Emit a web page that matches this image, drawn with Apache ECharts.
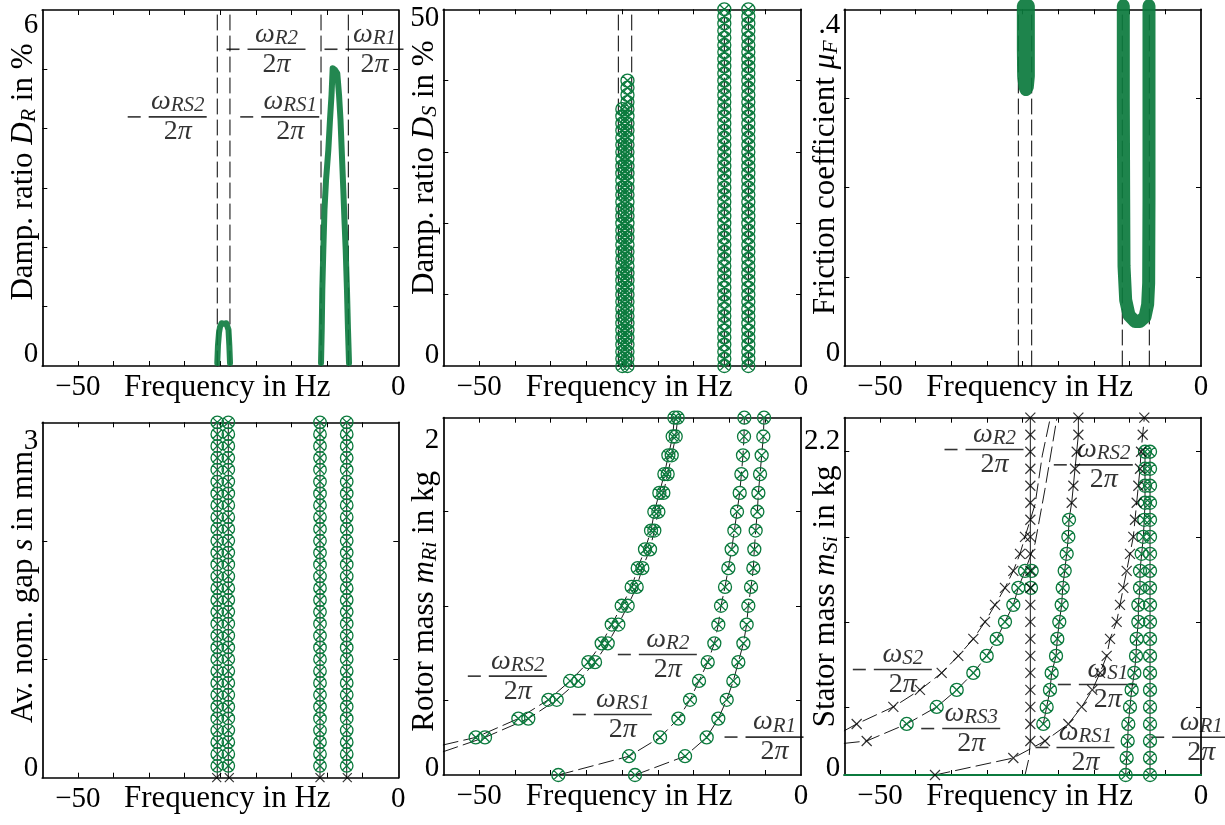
<!DOCTYPE html>
<html><head><meta charset="utf-8">
<script src="https://cdn.jsdelivr.net/npm/echarts@6/dist/echarts.min.js"></script>
<style>html,body{margin:0;padding:0;background:#fff}#c{width:1225px;height:825px}</style>
</head><body><div id="c"></div>
<script>
// ================= DATA =================
// shared x axis (Hz)
const X_MIN = -55.556, X_MAX = 0;
const X_TICKS = [-50, -44.444, -38.889, -33.333, -27.778, -22.222, -16.667, -11.111, -5.556];
const X_LABEL_VALUES = [-50, 0];
const X_LABEL_TEXTS = ['\u221250', '0'];

// parameter sweeps
const DS_LEVELS = [0,1,2,3,4,5,6,7,8,9,10,11,12,13,14,15,16,17,18,19,20,21,22,23,24,25,26,27,28,29,30,31,32,33,34,35,36,37,38,39,40,41,42,43,44,45,46,47,48,49,50];
const S_LEVELS = [0.1,0.2,0.3,0.4,0.5,0.6,0.7,0.8,0.9,1.0,1.1,1.2,1.3,1.4,1.5,1.6,1.7,1.8,1.9,2.0,2.1,2.2,2.3,2.4,2.5,2.6,2.7,2.8,2.9,3.0];
const M_LEVELS = [0.1,0.2,0.3,0.4,0.5,0.6,0.7,0.8,0.9,1.0,1.1,1.2,1.3,1.4,1.5,1.6,1.7,1.8,1.9,2.0];
const M_LEVELS_HI = [0.3,0.4,0.5,0.6,0.7,0.8,0.9,1.0,1.1,1.2,1.3,1.4,1.5,1.6,1.7,1.8,1.9,2.0,2.1,2.2];

// Panel 1 : damping ratio D_R
const P1_Y_TICKS = [1,2,3,4,5];
const P1_Y_LABEL_VALUES = [0, 6];
const P1_Y_LABEL_TEXTS = ['0', '6'];
const P1_DASH_X = [-28.25, -26.27, -12.06, -7.80];
const P1_SMALL_X = [-28.25, -28.14, -27.98, -27.82, -27.59, -27.40, -27.20, -27.04, -26.84, -26.65, -26.50, -26.37, -26.26];
const P1_SMALL_Y = [0.05, 0.35, 0.56, 0.66, 0.72, 0.73, 0.71, 0.69, 0.72, 0.72, 0.61, 0.35, 0.05];
const P1_BIG_X = [-12.06, -11.95, -11.86, -11.70, -11.52, -11.28, -10.92, -10.66, -10.42, -10.24, -9.88, -9.52, -9.25, -9.02, -8.83, -8.58, -8.40, -8.21, -8.01, -7.85, -7.69];
const P1_BIG_Y = [0.05, 0.61, 1.28, 1.96, 2.63, 3.13, 3.64, 4.15, 4.57, 5.02, 4.99, 4.93, 4.57, 4.15, 3.64, 2.97, 2.46, 1.96, 1.28, 0.61, 0.05];
const P1_LABEL_X = [-42.15, -26.73, -24.59, -11.44];
const P1_LABEL_Y = [4.19, 5.33, 4.19, 5.33];
const P1_LABEL_SUB = ['RS2', 'R2', 'RS1', 'R1'];

// Panel 2 : damping ratio D_S
const P2_Y_TICKS = [10,20,30,40];
const P2_Y_LABEL_VALUES = [0, 50];
const P2_Y_LABEL_TEXTS = ['0', '50'];
const P2_DASH_X = [-28.37, -26.29, -11.91, -8.18];
const P2_COL_X = [-27.75, -26.95, -11.91, -8.18];
const P2_COL_TOP = [36, 40, 50, 50];

// Panel 3 : friction coefficient
const P3_Y_TICKS = [0.1,0.2,0.3];
const P3_Y_LABEL_VALUES = [0, 0.4];
const P3_Y_LABEL_TEXTS = ['0', '.4'];
const P3_DASH_X = [-28.45, -26.37, -12.26, -8.05];
const P3_U1_X = [-27.67, -27.67, -27.62, -27.41, -27.26, -27.05, -26.89, -26.89, -26.89];
const P3_U1_Y = [0.404, 0.355, 0.325, 0.313, 0.310, 0.313, 0.325, 0.355, 0.404];
const P3_U2_X = [-12.10, -12.10, -12.04, -11.99, -11.73, -11.21, -10.28, -9.50, -8.72, -8.31, -8.15, -8.10, -8.10, -8.10];
const P3_U2_Y = [0.404, 0.299, 0.187, 0.112, 0.074, 0.057, 0.050, 0.050, 0.055, 0.069, 0.093, 0.187, 0.299, 0.404];

// Panel 4 : gap s
const P4_Y_TICKS = [1,2];
const P4_Y_LABEL_VALUES = [0, 3];
const P4_Y_LABEL_TEXTS = ['0', '3'];
const P4_COL_X = [-28.25, -26.53, -12.22, -8.05];
const P4_XMARK_X = [-28.34, -26.37, -12.22, -7.96];

// Panel 5 : rotor mass
const P5_Y_TICKS = [0.5,1.0,1.5];
const P5_Y_LABEL_VALUES = [0.1, 2.0];
const P5_Y_LABEL_TEXTS = ['0', '2'];
const P5_RS1_X = [-37.69, -26.71, -21.90, -19.05, -17.24, -15.84, -14.49, -13.46, -12.84, -12.42, -11.80, -11.28, -10.77, -10.35, -9.94, -9.52, -9.26, -9.01, -8.85, -8.80];
const P5_R1_X = [-25.78, -18.01, -14.65, -12.84, -11.54, -10.51, -9.73, -8.95, -8.44, -8.18, -7.76, -7.40, -7.25, -7.04, -6.78, -6.62, -6.36, -6.11, -5.85, -5.74];
const P5_RS2_X = [-50.52, -43.90, -39.24, -35.87, -33.03, -30.96, -29.40, -27.85, -26.30, -25.36, -24.23, -23.29, -22.78, -22.00, -21.22, -20.60, -19.93, -19.67];
const P5_R2_X = [-49.08, -42.35, -37.94, -34.58, -31.99, -30.02, -28.37, -26.92, -25.52, -24.64, -23.45, -22.78, -22.15, -21.38, -20.71, -20.08, -19.46, -19.15];
const P5_RS2_EDGE_M = 0.26;
const P5_R2_EDGE_M = 0.224;
const P5_LABEL_X = [-51.67, -28.37, -35.36, -11.80];
const P5_LABEL_Y = [0.623, 0.738, 0.419, 0.299];
const P5_LABEL_SUB = ['RS2', 'R2', 'RS1', 'R1'];

// Panel 6 : stator mass
const P6_Y_TICKS = [0.5,1.0,1.5,2.0];
const P6_Y_LABEL_VALUES = [0.1, 2.2];
const P6_Y_LABEL_TEXTS = ['0', '2.2'];
const P6_G1_M = [0.4,0.5,0.6,0.7,0.8,0.9,1.0,1.1,1.2,1.3];
const P6_G1_X = [-45.84, -41.17, -38.05, -35.46, -33.38, -31.82, -30.53, -29.23, -28.45, -27.41];
const P6_G5_M = [1.2, 1.3];
const P6_G5_X = [-26.48, -26.37];
const P6_G2_M = [0.4,0.5,0.6,0.7,0.8,0.9,1.0,1.1,1.2,1.3,1.4,1.5,1.6];
const P6_G2_X = [-24.56, -24.04, -23.52, -23.26, -22.58, -22.38, -22.07, -21.70, -21.54, -21.23, -20.92, -20.66, -20.56];
const P6_G3_X = [-11.73, -11.58, -11.42, -11.32, -11.06, -10.80, -10.38, -10.12, -10.02, -9.76, -9.76, -9.50, -9.50, -9.24, -8.98, -8.83, -8.72, -8.72, -8.72, -8.72];
const P6_G4_X = -7.94;
const P6_B1_X = -26.58;
const P6_B2_M = [0.4,0.5,0.6,0.7,0.8,0.9,1.0,1.1,1.2,1.3,1.4,1.5];
const P6_B2_X = [-53.63, -47.92, -43.77, -40.39, -37.80, -35.46, -33.64, -32.08, -30.53, -29.23, -28.19, -27.41];
const P6_B3_M = [0.3];
const P6_B3_X = [-52.07];
const P6_B4_M = [0.1,0.2,0.3,0.4,0.5,0.6,0.7,0.8,0.9,1.0,1.1,1.2,1.3,1.4,1.5,1.6,1.7,1.8,1.9,2.0,2.1,2.2];
const P6_B4_X = [-41.43, -29.23, -24.30, -20.66, -18.59, -16.93, -15.73, -14.69, -14.17, -13.14, -12.62, -12.10, -11.58, -11.06, -10.54, -10.28, -10.02, -9.76, -9.50, -9.34, -9.08, -8.83];
const P6_B5_M = [1.7,1.8,1.9,2.0,2.1,2.2];
const P6_B5_X = [-20.14, -19.88, -19.62, -19.36, -19.10, -19.10];
const P6_S2_EDGE_M = 0.36;
const P6_S2_TAIL_X = [-25.85, -24.71, -23.52];
const P6_S2_TAIL_M = [1.69, 1.98, 2.19];
const P6_RS3_EDGE_M = 0.286;
const P6_RS3_TAIL_X = [-25.85, -24.30, -22.48];
const P6_RS3_TAIL_M = [1.46, 1.78, 2.19];
const P6_R2_X = [-27.41, -26.79, -26.58];
const P6_R2_M = [0.1, 0.2, 0.3];
const P6_LABEL_X = [-39.87, -22.85, -54.15, -43.50, -22.22, -25.70, -7.68];
const P6_LABEL_Y = [2.01, 1.92, 0.717, 0.370, 0.629, 0.259, 0.319];
const P6_LABEL_SUB = ['R2', 'RS2', 'S2', 'RS3', 'S1', 'RS1', 'R1'];

// ================= STYLE / LAYOUT =================
const GREEN = '#0b7a3d';
const SERIF = '"Liberation Serif","Times New Roman",serif';
const FS = 29;
const NFS = 31;
const OTIMES = 'path://M10,0A10,10,0,1,1,-10,0A10,10,0,1,1,10,0ZM-7.07,-7.07L7.07,7.07M-7.07,7.07L7.07,-7.07';
const XMARK = 'path://M-1,-1L1,1M-1,1L1,-1';
const DASH = [15, 6];

const GRIDS = [
  {left: 42.3, top: 10, width: 356, height: 356},
  {left: 443.3, top: 9.3, width: 357.7, height: 356.7},
  {left: 844.3, top: 9.3, width: 356.7, height: 356.7},
  {left: 42.3, top: 422.3, width: 356, height: 355.4},
  {left: 443.3, top: 417.7, width: 357.7, height: 357.3},
  {left: 844.3, top: 417.7, width: 356.7, height: 357.3}
];
const PANELS = [
  {yMin: 0, yMax: 6, ticks: P1_Y_TICKS, labV: P1_Y_LABEL_VALUES, labT: P1_Y_LABEL_TEXTS, padTop: 30, padBot: 24,
   name: '{r|Damp. ratio }{i|D}{s|R}{r| in %}', shift: 32},
  {yMin: 0, yMax: 50, ticks: P2_Y_TICKS, labV: P2_Y_LABEL_VALUES, labT: P2_Y_LABEL_TEXTS, padTop: 18, padBot: 22,
   name: '{r|Damp. ratio }{i|D}{s|S}{r| in %}', shift: 40},
  {yMin: 0, yMax: 0.4, ticks: P3_Y_TICKS, labV: P3_Y_LABEL_VALUES, labT: P3_Y_LABEL_TEXTS, padTop: 32, padBot: 26,
   name: '{r|Friction coefficient }{i|\u03bc}{s|F}', shift: 20},
  {yMin: 0, yMax: 3, ticks: P4_Y_TICKS, labV: P4_Y_LABEL_VALUES, labT: P4_Y_LABEL_TEXTS, padTop: 38, padBot: 18,
   name: '{r|Av. nom. gap }{i|s}{r| in mm}', shift: 26},
  {yMin: 0.1, yMax: 2.0, ticks: P5_Y_TICKS, labV: P5_Y_LABEL_VALUES, labT: P5_Y_LABEL_TEXTS, padTop: 46, padBot: 14,
   name: '{r|Rotor mass }{i|m}{s|Ri}{r| in kg}', shift: -10},
  {yMin: 0.1, yMax: 2.2, ticks: P6_Y_TICKS, labV: P6_Y_LABEL_VALUES, labT: P6_Y_LABEL_TEXTS, padTop: 48, padBot: 14,
   name: '{r|Stator mass }{i|m}{s|Si}{r| in kg}', shift: 0}
];

const AX_LINE = {show: true, onZero: false, lineStyle: {color: '#000', width: 1.7}};
const TICK_STYLE = {color: '#000', width: 1};
const NAME_RICH = {
  r: {fontFamily: SERIF, fontSize: NFS, color: '#000', lineHeight: 31},
  i: {fontFamily: SERIF, fontSize: NFS, fontStyle: 'italic', color: '#000', lineHeight: 31},
  s: {fontFamily: SERIF, fontSize: 22, fontStyle: 'italic', color: '#000', lineHeight: 31, padding: [10, 0, 0, 0]}
};

const xAxes = [], yAxes = [];
GRIDS.forEach((g, k) => {
  const P = PANELS[k];
  xAxes.push({
    type: 'value', gridIndex: k, position: 'bottom', min: X_MIN, max: X_MAX,
    axisLine: AX_LINE, splitLine: {show: false},
    axisTick: {show: true, inside: true, length: 5, customValues: X_TICKS, lineStyle: TICK_STYLE},
    axisLabel: {show: true, customValues: X_LABEL_VALUES, margin: 7, color: '#000', fontFamily: SERIF, fontSize: FS,
      formatter: v => X_LABEL_TEXTS[X_LABEL_VALUES.indexOf(v)] ?? ''},
    name: 'Frequency in Hz', nameLocation: 'middle', nameGap: 6, nameMoveOverlap: false,
    nameTextStyle: {fontFamily: SERIF, fontSize: NFS, color: '#000', padding: [0, 0, 0, 14]}
  });
  xAxes.push({
    type: 'value', gridIndex: k, position: 'top', min: X_MIN, max: X_MAX,
    axisLine: AX_LINE, splitLine: {show: false},
    axisTick: {show: true, inside: true, length: 5, customValues: X_TICKS, lineStyle: TICK_STYLE},
    axisLabel: {show: false}
  });
  const labStyle = {fontFamily: SERIF, fontSize: FS, color: '#000'};
  yAxes.push({
    type: 'value', gridIndex: k, position: 'left', min: P.yMin, max: P.yMax,
    axisLine: AX_LINE, splitLine: {show: false},
    axisTick: {show: true, inside: true, length: 5, customValues: P.ticks, lineStyle: TICK_STYLE},
    axisLabel: {show: true, customValues: P.labV, margin: 4, color: '#000', fontFamily: SERIF, fontSize: FS,
      formatter: v => {
        const i = P.labV.indexOf(v);
        if (i < 0) return '';
        return (i === 0 ? '{b|' : '{t|') + P.labT[i] + '}';
      },
      rich: {
        t: Object.assign({padding: [P.padTop, 0, 0, 0]}, labStyle),
        b: Object.assign({padding: [0, 0, P.padBot, 0]}, labStyle)
      }},
    name: P.name, nameLocation: 'middle', nameGap: 3, nameMoveOverlap: false,
    nameTextStyle: {rich: NAME_RICH, fontFamily: SERIF, fontSize: NFS, color: '#000',
      padding: P.shift >= 0 ? [0, 0, 0, P.shift] : [0, -P.shift, 0, 0]}
  });
  yAxes.push({
    type: 'value', gridIndex: k, position: 'right', min: P.yMin, max: P.yMax,
    axisLine: AX_LINE, splitLine: {show: false},
    axisTick: {show: true, inside: true, length: 5, customValues: P.ticks, lineStyle: TICK_STYLE},
    axisLabel: {show: false}
  });
});

// ================= SERIES HELPERS =================
const pairs = (xs, ys) => xs.map((x, i) => [x, ys[i]]);
const column = (x, ys) => ys.map(y => [x, y]);
function lineS(k, data, color, width, type, z, opacity) {
  return {type: 'line', xAxisIndex: 2 * k, yAxisIndex: 2 * k, data, symbol: 'none', showSymbol: false,
    clip: false, silent: true, z: z || 2,
    lineStyle: {color, width, type: type || 'solid', cap: 'round', join: 'round', opacity: opacity || 1}};
}
function otimes(k, data, size) {
  return {type: 'scatter', xAxisIndex: 2 * k, yAxisIndex: 2 * k, data, symbol: OTIMES, symbolSize: size || 13,
    clip: false, silent: true, z: 4,
    itemStyle: {color: 'rgba(0,0,0,0)', borderColor: GREEN, borderWidth: 1.3, opacity: 1}};
}
function xmarks(k, data, size) {
  return {type: 'scatter', xAxisIndex: 2 * k, yAxisIndex: 2 * k, data, symbol: XMARK, symbolSize: size || 10,
    clip: false, silent: true, z: 5,
    itemStyle: {color: 'rgba(0,0,0,0)', borderColor: '#000', borderWidth: 1.2}};
}
function vlines(k, xs, y0, y1, type, width) {
  return xs.map(x => lineS(k, [[x, y0], [x, y1]], '#000', width || 1, type, 2));
}
const FRAC_RICH = {
  sp: {width: 21, lineHeight: 26, align: 'center'},
  w: {fontFamily: SERIF, fontSize: 28, fontStyle: 'italic', color: '#000', lineHeight: 26, align: 'center'},
  s: {fontFamily: SERIF, fontSize: 21, fontStyle: 'italic', color: '#000', lineHeight: 26, align: 'center', padding: [8, 0, 0, 0]},
  m: {width: 13, height: 1.6, lineHeight: 4, backgroundColor: '#000', align: 'center'},
  g: {width: 8, height: 1.6, lineHeight: 4, align: 'center'},
  b1: {width: 44, height: 1.6, lineHeight: 4, backgroundColor: '#000', align: 'center'},
  b2: {width: 58, height: 1.6, lineHeight: 4, backgroundColor: '#000', align: 'center'},
  d: {fontFamily: SERIF, fontSize: 28, color: '#000', lineHeight: 26, align: 'center'},
  pi: {fontFamily: SERIF, fontSize: 28, fontStyle: 'italic', color: '#000', lineHeight: 26, align: 'center'}
};
function frac(sub) {
  const bar = sub.length > 1 ? 'b2' : 'b1';
  return '{sp| }{w|\u03c9}{s|' + sub + '}\n{m| }{g| }{' + bar + '| }\n{sp| }{d|2}{pi|\u03c0}';
}
function labels(k, xs, ys, subs) {
  return {type: 'scatter', xAxisIndex: 2 * k, yAxisIndex: 2 * k, silent: true, clip: false, z: 1,
    data: xs.map((x, i) => [x, ys[i], subs[i]]), symbolSize: 1, itemStyle: {color: 'rgba(0,0,0,0)'},
    label: {show: true, position: [0, 0], align: 'left', verticalAlign: 'middle',
      formatter: p => frac(p.data[2]), rich: FRAC_RICH}};
}

// ================= SERIES =================
const series = [];
// Panel 1
series.push(...vlines(0, P1_DASH_X, 0, 6, DASH));
series.push(lineS(0, pairs(P1_SMALL_X, P1_SMALL_Y), GREEN, 6, 'solid', 3, 0.9));
series.push(lineS(0, pairs(P1_BIG_X, P1_BIG_Y), GREEN, 6, 'solid', 3, 0.9));
series.push(labels(0, P1_LABEL_X, P1_LABEL_Y, P1_LABEL_SUB));
// Panel 2
series.push(...vlines(1, P2_DASH_X, 0, 50, DASH));
P2_COL_X.forEach((x, i) => series.push(otimes(1, column(x, DS_LEVELS.filter(v => v <= P2_COL_TOP[i])))));
// Panel 3
series.push(...vlines(2, P3_DASH_X, 0, 0.4, DASH));
series.push(lineS(2, pairs(P3_U1_X, P3_U1_Y), GREEN, 13, 'solid', 3, 0.92));
series.push(lineS(2, pairs(P3_U2_X, P3_U2_Y), GREEN, 13, 'solid', 3, 0.92));
// Panel 4
series.push(...vlines(3, P4_COL_X, 0, 3, 'solid', 0.9));
P4_COL_X.forEach(x => series.push(otimes(3, column(x, S_LEVELS), 12.5)));
series.push(xmarks(3, P4_XMARK_X.map(x => [x, 0]), 9));
// Panel 5
series.push(lineS(4, [[X_MIN, P5_RS2_EDGE_M]].concat(pairs(P5_RS2_X, M_LEVELS.slice(2))), '#000', 0.9, DASH));
series.push(lineS(4, [[X_MIN, P5_R2_EDGE_M]].concat(pairs(P5_R2_X, M_LEVELS.slice(2))), '#000', 0.9, DASH));
series.push(lineS(4, pairs(P5_RS1_X, M_LEVELS), '#000', 0.9, DASH));
series.push(lineS(4, pairs(P5_R1_X, M_LEVELS), '#000', 0.9, DASH));
series.push(otimes(4, pairs(P5_RS2_X, M_LEVELS.slice(2))));
series.push(otimes(4, pairs(P5_R2_X, M_LEVELS.slice(2))));
series.push(otimes(4, pairs(P5_RS1_X, M_LEVELS)));
series.push(otimes(4, pairs(P5_R1_X, M_LEVELS)));
series.push(labels(4, P5_LABEL_X, P5_LABEL_Y, P5_LABEL_SUB));
// Panel 6
series.push(lineS(5, [[X_MIN, 0.1], [X_MAX, 0.1]], GREEN, 2, 'solid', 3));
series.push(lineS(5, [[X_MIN, P6_S2_EDGE_M]].concat(pairs(P6_B2_X, P6_B2_M), pairs(P6_S2_TAIL_X, P6_S2_TAIL_M)), '#000', 0.9, DASH));
series.push(lineS(5, [[X_MIN, P6_RS3_EDGE_M]].concat(pairs(P6_B3_X, P6_B3_M), pairs(P6_G1_X, P6_G1_M), pairs(P6_RS3_TAIL_X, P6_RS3_TAIL_M)), '#000', 0.9, DASH));
series.push(lineS(5, pairs(P6_B4_X, P6_B4_M), '#000', 0.9, DASH));
series.push(lineS(5, pairs(P6_R2_X, P6_R2_M), '#000', 0.9, DASH));
series.push(lineS(5, column(P6_B1_X, M_LEVELS_HI), '#000', 0.9));
series.push(lineS(5, pairs(P6_G2_X, P6_G2_M).concat(pairs(P6_B5_X, P6_B5_M)), '#000', 0.9));
series.push(lineS(5, pairs(P6_G3_X, M_LEVELS), '#000', 0.9));
series.push(lineS(5, column(P6_G4_X, M_LEVELS), '#000', 0.9));
series.push(xmarks(5, column(P6_B1_X, M_LEVELS_HI)));
series.push(xmarks(5, pairs(P6_B2_X, P6_B2_M)));
series.push(xmarks(5, pairs(P6_B3_X, P6_B3_M)));
series.push(xmarks(5, pairs(P6_B4_X, P6_B4_M)));
series.push(xmarks(5, pairs(P6_B5_X, P6_B5_M)));
series.push(otimes(5, pairs(P6_G1_X, P6_G1_M)));
series.push(otimes(5, pairs(P6_G5_X, P6_G5_M)));
series.push(otimes(5, pairs(P6_G2_X, P6_G2_M)));
series.push(otimes(5, pairs(P6_G3_X, M_LEVELS)));
series.push(otimes(5, column(P6_G4_X, M_LEVELS)));
series.push(labels(5, P6_LABEL_X, P6_LABEL_Y, P6_LABEL_SUB));

const chart = echarts.init(document.getElementById('c'), null, {renderer: 'canvas'});
chart.setOption({
  animation: false,
  backgroundColor: '#fff',
  grid: GRIDS.map(g => Object.assign({containLabel: false}, g)),
  xAxis: xAxes,
  yAxis: yAxes,
  series
});
</script>
</body></html>
